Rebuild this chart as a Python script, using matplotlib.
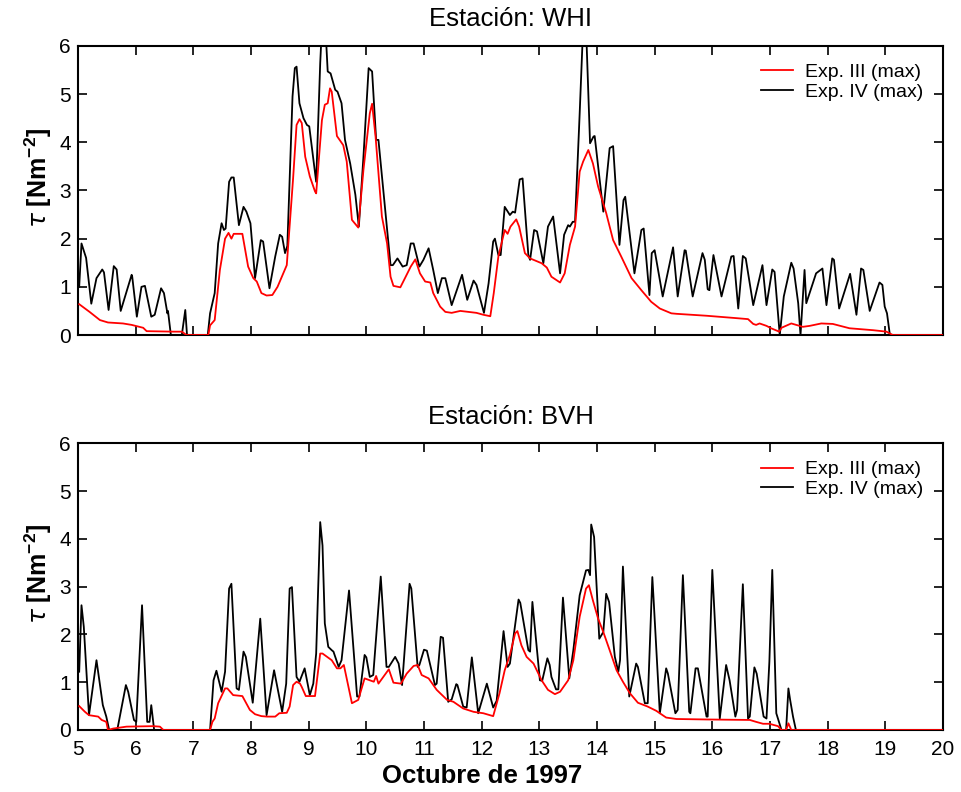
import matplotlib
matplotlib.use("Agg")
import matplotlib.pyplot as plt

plt.rcParams['font.family'] = ['Liberation Sans', 'DejaVu Sans']
plt.rcParams['mathtext.fontset'] = 'custom'
plt.rcParams['mathtext.rm'] = 'Liberation Sans'
plt.rcParams['mathtext.bf'] = 'Liberation Sans:bold'

# ---------------- Data: station WHI ----------------
whi_exp3_day = [5.02, 5.20, 5.38, 5.52, 5.78, 5.93, 6.13, 6.19, 6.65, 6.80, 6.88, 7.26, 7.29, 7.37, 7.46,
                7.55, 7.61, 7.66, 7.70, 7.85, 7.95, 8.04, 8.10, 8.18, 8.27, 8.37, 8.46, 8.62, 8.73, 8.79,
                8.84, 8.88, 8.94, 9.02, 9.11, 9.13, 9.23, 9.28, 9.33, 9.37, 9.40, 9.49, 9.60, 9.66, 9.75,
                9.86, 9.95, 10.06, 10.10, 10.16, 10.27, 10.36, 10.42, 10.47, 10.59, 10.67, 10.77, 10.85,
                10.93, 11.02, 11.11, 11.16, 11.28, 11.37, 11.48, 11.63, 11.91, 12.03, 12.15, 12.21, 12.29,
                12.40, 12.45, 12.50, 12.60, 12.65, 12.75, 12.84, 13.04, 13.13, 13.21, 13.36, 13.44, 13.53,
                13.62, 13.70, 13.76, 13.85, 13.93, 14.02, 14.16, 14.28, 14.42, 14.60, 14.77, 14.94, 15.09,
                15.29, 15.38, 15.90, 16.42, 16.62, 16.71, 16.76, 16.82, 16.94, 17.02, 17.16, 17.20, 17.37,
                17.57, 17.69, 17.89, 18.09, 18.38, 18.79, 19.02, 19.13, 20.0]
whi_exp3_tau = [0.64, 0.48, 0.31, 0.26, 0.24, 0.21, 0.15, 0.08, 0.07, 0.07, 0.0, 0.0, 0.20, 0.31, 1.35,
                2.00, 2.12, 2.00, 2.10, 2.10, 1.42, 1.18, 1.11, 0.87, 0.82, 0.83, 1.00, 1.45, 3.25, 4.36,
                4.48, 4.40, 3.70, 3.29, 2.98, 2.94, 4.46, 4.78, 4.81, 5.12, 5.05, 4.13, 3.94, 3.60, 2.39,
                2.23, 3.43, 4.60, 4.80, 4.12, 2.46, 1.90, 1.21, 1.02, 0.99, 1.18, 1.42, 1.57,
                1.28, 1.11, 1.09, 0.87, 0.59, 0.48, 0.46, 0.50, 0.46, 0.42, 0.39, 0.87, 1.63,
                2.18, 2.10, 2.25, 2.40, 2.25, 1.70, 1.59, 1.49, 1.40, 1.21, 1.09, 1.28, 1.87,
                2.25, 3.39, 3.60, 3.84, 3.56, 3.08, 2.53, 1.97, 1.63, 1.18, 0.93, 0.69, 0.55,
                0.45, 0.44, 0.40, 0.35, 0.33, 0.23, 0.21, 0.24, 0.19, 0.14, 0.07, 0.15, 0.24,
                0.17, 0.19, 0.24, 0.23, 0.14, 0.10, 0.07, 0.0, 0.0]

whi_exp4_day = [5.02, 5.06, 5.14, 5.23, 5.32, 5.42, 5.45, 5.53, 5.62, 5.67, 5.74, 5.93, 5.94, 6.02, 6.10,
                6.16, 6.27, 6.33, 6.44, 6.49, 6.55, 6.56, 6.61, 6.80, 6.86, 6.89, 7.25, 7.29, 7.37, 7.43,
                7.49, 7.53, 7.56, 7.62, 7.66, 7.70, 7.79, 7.87, 7.92, 7.99, 8.07, 8.17, 8.21, 8.32, 8.42,
                8.50, 8.54, 8.59, 8.63, 8.72, 8.76, 8.79, 8.84, 8.91, 8.97, 9.01, 9.13, 9.20, 9.23, 9.29,
                9.33, 9.38, 9.46, 9.50, 9.57, 9.63, 9.72, 9.81, 9.87, 9.95, 10.04, 10.10, 10.17, 10.21,
                10.30, 10.42, 10.46, 10.54, 10.63, 10.70, 10.77, 10.82, 10.92, 10.99, 11.08, 11.16, 11.24,
                11.31, 11.37, 11.48, 11.66, 11.75, 11.86, 11.91, 12.04, 12.12, 12.20, 12.23, 12.29, 12.33,
                12.40, 12.49, 12.54, 12.58, 12.66, 12.71, 12.81, 12.84, 12.91, 12.96, 13.07, 13.15, 13.24,
                13.36, 13.43, 13.50, 13.53, 13.58, 13.62, 13.70, 13.76, 13.81, 13.88, 13.94, 13.96, 14.11,
                14.22, 14.28, 14.39, 14.46, 14.49, 14.65, 14.77, 14.81, 14.91, 14.95, 15.00, 15.14, 15.32,
                15.40, 15.52, 15.54, 15.66, 15.83, 15.87, 15.92, 15.95, 16.02, 16.16, 16.33, 16.37, 16.45,
                16.53, 16.58, 16.71, 16.87, 16.94, 17.04, 17.08, 17.17, 17.24, 17.37, 17.41, 17.49, 17.53,
                17.60, 17.63, 17.80, 17.91, 17.98, 18.08, 18.11, 18.20, 18.39, 18.50, 18.58, 18.62, 18.73,
                18.90, 18.95, 18.99, 19.03, 19.08, 20.0]
whi_exp4_tau = [1.00, 1.90, 1.60, 0.65, 1.18, 1.36, 1.30, 0.52, 1.43, 1.36, 0.50, 1.25, 1.21, 0.38, 1.00,
                1.02, 0.38, 0.42, 0.97, 0.87, 0.45, 0.50, 0.0, 0.0, 0.52, 0.0, 0.0, 0.45, 0.87, 1.90,
                2.32, 2.18, 2.21, 3.18, 3.27, 3.27, 2.28, 2.66, 2.56, 2.32, 1.18, 1.97, 1.94, 0.97, 1.63,
                2.08, 2.04, 1.70, 1.85, 4.95, 5.54, 5.57, 4.81, 4.50, 4.36, 4.33, 3.18, 5.64, 6.40, 6.40,
                5.47, 5.43, 5.09, 5.05, 4.81, 4.05, 3.56, 2.91, 2.25, 3.70, 5.54, 5.47, 4.05, 4.05,
                2.94, 1.45, 1.45, 1.59, 1.42, 1.45, 1.90, 1.90, 1.42, 1.56, 1.80, 1.35, 0.87,
                1.18, 1.18, 0.62, 1.25, 0.73, 1.13, 1.04, 0.46, 1.07, 1.94, 2.00, 1.66, 1.66,
                2.66, 2.49, 2.56, 2.54, 3.23, 3.25, 1.66, 1.56, 2.18, 2.15, 1.49, 2.25, 2.46,
                1.28, 2.08, 2.28, 2.25, 2.35, 2.35, 4.60, 6.40, 6.40, 3.98, 4.12, 4.13, 2.56,
                3.88, 3.92, 1.87, 2.80, 2.87, 1.28, 2.18, 2.21, 0.83, 1.70, 1.76, 0.80, 1.82,
                0.80, 1.76, 1.75, 0.80, 1.70, 1.56, 0.95, 0.93, 1.66, 0.80, 1.63, 1.64, 0.55,
                1.64, 1.59, 0.62, 1.45, 0.62, 1.36, 1.31, 0.0, 0.80, 1.50, 1.38, 0.66, 0.0,
                1.35, 0.66, 1.28, 1.38, 0.62, 1.59, 1.56, 0.55, 1.27, 0.42, 1.38, 1.35, 0.50,
                1.09, 1.04, 0.59, 0.45, 0.0, 0.0]

# ---------------- Data: station BVH ----------------
bvh_exp3_day = [5.02, 5.12, 5.19, 5.35, 5.41, 5.49, 5.52, 5.61, 5.84, 6.30, 6.42, 6.48, 7.29, 7.33, 7.37,
                7.43, 7.55, 7.59, 7.69, 7.85, 7.98, 8.07, 8.18, 8.28, 8.42, 8.49, 8.62, 8.67, 8.73, 8.79,
                8.85, 8.88, 8.95, 9.11, 9.20, 9.24, 9.40, 9.49, 9.55, 9.61, 9.75, 9.86, 9.97, 10.06, 10.13,
                10.17, 10.21, 10.39, 10.47, 10.60, 10.70, 10.82, 10.89, 10.96, 11.08, 11.22, 11.40, 11.51,
                11.68, 11.86, 12.03, 12.20, 12.31, 12.40, 12.49, 12.58, 12.62, 12.69, 12.78, 12.90, 13.04,
                13.15, 13.27, 13.36, 13.50, 13.59, 13.70, 13.81, 13.86, 13.93, 14.02, 14.11, 14.22, 14.34,
                14.45, 14.57, 14.71, 14.88, 15.03, 15.09, 15.20, 15.38, 15.90, 16.65, 16.76, 16.88, 16.99,
                17.14, 17.20, 17.28, 17.32, 17.37, 20.0]
bvh_exp3_tau = [0.50, 0.38, 0.31, 0.28, 0.21, 0.17, 0.0, 0.03, 0.07, 0.08, 0.07, 0.0, 0.0, 0.17, 0.24,
                0.56, 0.87, 0.87, 0.73, 0.71, 0.42, 0.33, 0.29, 0.28, 0.28, 0.35, 0.36, 0.49, 0.94, 1.01,
                0.97, 0.90, 0.71, 0.71, 1.60, 1.60, 1.46, 1.29, 1.29, 1.36, 0.56, 0.63, 1.08, 1.04, 1.01,
                1.13, 0.97, 1.27, 0.99, 0.97, 1.18, 1.34, 1.36, 1.15, 1.08, 0.84, 0.63, 0.59,
                0.45, 0.38, 0.35, 0.29, 0.77, 1.25, 1.57, 2.02, 2.07, 1.77, 1.53, 1.39, 1.04,
                0.84, 0.75, 0.80, 1.04, 1.46, 2.37, 2.96, 3.03, 2.71, 2.33, 2.05, 1.67, 1.25,
                1.01, 0.77, 0.57, 0.49, 0.40, 0.35, 0.26, 0.23, 0.22, 0.21, 0.17, 0.13, 0.13,
                0.08, 0.0, 0.0, 0.14, 0.0, 0.0]

bvh_exp4_day = [5.02, 5.06, 5.10, 5.19, 5.32, 5.43, 5.49, 5.54, 5.68, 5.83, 5.87, 5.97, 6.01, 6.11, 6.20,
                6.24, 6.27, 6.32, 7.29, 7.35, 7.40, 7.49, 7.55, 7.62, 7.66, 7.75, 7.79, 7.87, 7.91, 8.03,
                8.16, 8.27, 8.40, 8.54, 8.61, 8.67, 8.71, 8.79, 8.84, 8.93, 9.02, 9.08, 9.13, 9.20, 9.24,
                9.28, 9.34, 9.40, 9.43, 9.52, 9.57, 9.70, 9.84, 9.88, 9.97, 10.00, 10.06, 10.12, 10.25,
                10.35, 10.39, 10.50, 10.56, 10.62, 10.75, 10.78, 10.89, 10.92, 11.00, 11.05, 11.19, 11.22,
                11.29, 11.33, 11.42, 11.48, 11.56, 11.58, 11.68, 11.74, 11.83, 11.94, 12.09, 12.20, 12.26,
                12.38, 12.45, 12.49, 12.64, 12.67, 12.81, 12.84, 12.88, 13.01, 13.05, 13.14, 13.18, 13.21,
                13.29, 13.33, 13.41, 13.52, 13.59, 13.70, 13.81, 13.85, 13.88, 13.90, 13.95, 14.04, 14.11,
                14.16, 14.21, 14.31, 14.37, 14.40, 14.45, 14.56, 14.68, 14.71, 14.83, 14.88, 14.96, 14.98,
                15.09, 15.20, 15.23, 15.36, 15.40, 15.49, 15.60, 15.62, 15.71, 15.75, 15.90, 15.92, 16.00,
                16.13, 16.24, 16.30, 16.40, 16.43, 16.53, 16.62, 16.65, 16.73, 16.77, 16.89, 16.94, 16.99,
                17.04, 17.11, 17.20, 17.28, 17.32, 17.35, 17.40, 17.45, 20.0]
bvh_exp4_tau = [1.22, 2.61, 2.16, 0.31, 1.46, 0.52, 0.28, 0.0, 0.0, 0.94, 0.80, 0.21, 0.17, 2.61, 0.17,
                0.17, 0.52, 0.0, 0.0, 1.04, 1.24, 0.80, 1.22, 2.96, 3.06, 0.87, 0.84, 1.64, 1.53, 0.57,
                2.33, 0.31, 1.25, 0.38, 0.97, 2.96, 2.99, 1.11, 1.01, 1.29, 0.73, 0.97, 1.60, 4.35, 3.86,
                2.23, 1.74, 1.67, 1.64, 1.32, 1.46, 2.92, 0.70, 0.70, 1.57, 1.52, 1.11, 1.15, 3.21,
                1.32, 1.32, 1.53, 1.39, 0.94, 3.06, 2.96, 1.32, 1.36, 1.68, 1.66, 0.94, 0.97,
                1.95, 1.93, 0.59, 0.64, 0.96, 0.94, 0.49, 0.47, 1.52, 0.35, 0.97, 0.47, 0.61,
                2.07, 1.32, 1.39, 2.73, 2.66, 1.67, 1.64, 2.68, 1.04, 1.03, 1.50, 1.36, 1.11,
                0.85, 0.85, 2.77, 1.08, 1.67, 2.82, 3.34, 3.35, 3.24, 4.30, 4.04, 1.91, 2.05,
                2.85, 2.68, 1.53, 1.22, 1.46, 3.42, 0.70, 1.39, 1.32, 0.56, 0.56, 3.20, 2.78,
                0.35, 1.29, 1.18, 0.35, 0.42, 3.24, 0.38, 0.35, 1.29, 1.29, 0.28, 0.28, 3.35,
                0.24, 1.36, 1.04, 0.28, 0.42, 3.05, 0.24, 0.28, 1.31, 1.18, 0.28, 0.24, 1.43,
                3.35, 0.35, 0.0, 0.0, 0.87, 0.63, 0.28, 0.0, 0.0]

stations = ["WHI", "BVH"]
series_labels = ["Exp. III (max)", "Exp. IV (max)"]
x_ticks = list(range(5, 21))
y_ticks = [0, 1, 2, 3, 4, 5, 6]

fig = plt.figure(figsize=(9.61, 7.92), dpi=100)
ax_top = fig.add_axes([0.0812, 0.577, 0.900, 0.365])
ax_bot = fig.add_axes([0.0812, 0.0783, 0.900, 0.362])

panels = [
    (ax_top, stations[0], whi_exp3_day, whi_exp3_tau, whi_exp4_day, whi_exp4_tau),
    (ax_bot, stations[1], bvh_exp3_day, bvh_exp3_tau, bvh_exp4_day, bvh_exp4_tau),
]

for ax, st, d3, t3, d4, t4 in panels:
    ax.plot(d3, t3, color='#ff0000', lw=1.3, label=series_labels[0], zorder=3)
    ax.plot(d4, t4, color='black', lw=1.3, label=series_labels[1], zorder=2)
    ax.set_xlim(5, 20)
    ax.set_ylim(0, 6)
    ax.set_xticks(x_ticks)
    ax.set_yticks(y_ticks)
    ax.tick_params(direction='in', top=True, right=True, length=6.5, width=1.2,
                   labelsize=15)
    ax.tick_params(axis='x', pad=7)
    ax.tick_params(axis='y', pad=5)
    for sp in ax.spines.values():
        sp.set_linewidth(1.5)
    ax.set_title(f"Estación: {st}", fontsize=18.5, pad=14)
    ax.set_ylabel(r"$\tau$ [Nm$^{\mathbf{-2}}$]", fontsize=18, fontweight='bold', labelpad=4)
    ax.yaxis.label.set_y(0.543)
    ax.legend(loc='upper right', frameon=False, fontsize=14,
              handlelength=1.65, handletextpad=0.6, labelspacing=0.1,
              bbox_to_anchor=(0.997, 1.0))

ax_top.tick_params(labelbottom=False)
ax_bot.set_xlabel("Octubre de 1997", fontsize=18.5, fontweight='bold', labelpad=4)
ax_bot.xaxis.label.set_x(0.467)

fig.savefig("out.png", dpi=100)
